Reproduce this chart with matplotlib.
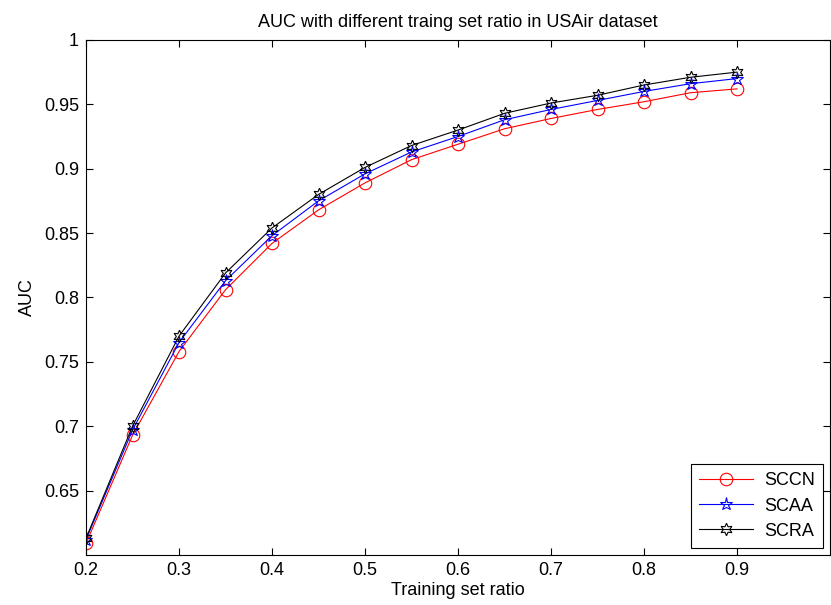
import matplotlib
matplotlib.use("Agg")
import matplotlib.pyplot as plt

plt.rcParams['font.family'] = ['Liberation Sans', 'DejaVu Sans']

ratio = [0.2, 0.25, 0.3, 0.35, 0.4, 0.45, 0.5, 0.55, 0.6, 0.65, 0.7, 0.75, 0.8, 0.85, 0.9]
sccn = [0.609, 0.693, 0.758, 0.806, 0.842, 0.868, 0.889, 0.907, 0.919, 0.931, 0.939, 0.946, 0.952, 0.959, 0.962]
scaa = [0.612, 0.697, 0.765, 0.813, 0.848, 0.875, 0.896, 0.913, 0.925, 0.938, 0.946, 0.953, 0.960, 0.966, 0.970]
scra = [0.613, 0.700, 0.770, 0.819, 0.854, 0.880, 0.901, 0.918, 0.930, 0.943, 0.951, 0.957, 0.965, 0.971, 0.975]

xticks = [0.2, 0.3, 0.4, 0.5, 0.6, 0.7, 0.8, 0.9]
yticks = [0.65, 0.7, 0.75, 0.8, 0.85, 0.9, 0.95, 1]

fig = plt.figure(figsize=(8.31, 6.05), dpi=100)
ax = fig.add_axes([0.1035, 0.0826, 0.8953, 0.8514])

ax.plot(ratio, sccn, color='red', lw=0.8, marker='o', ms=9, mfc='none', mew=0.8, label='SCCN')
ax.plot(ratio, scaa, color='blue', lw=0.8, marker='*', ms=9.5, mfc='none', mew=0.8, label='SCAA')
ax.plot(ratio, scra, color='black', lw=0.8, marker=(6, 1, 0), ms=9, mfc='none', mew=0.8, label='SCRA')

ax.set_xlim(0.2, 1.0)
ax.set_ylim(0.6, 1.0)
ax.set_xticks(xticks)
ax.set_xticklabels([('%g' % t) for t in xticks])
ax.set_yticks(yticks)
ax.set_yticklabels([('%g' % t) for t in yticks])
ax.tick_params(direction='in', top=True, right=True, length=5, width=0.8, labelsize=13, pad=5)
for s in ax.spines.values():
    s.set_linewidth(0.8)

ax.set_title('AUC with different traing set ratio in USAir dataset', fontsize=13, pad=9)
ax.set_xlabel('Training set ratio', fontsize=13, labelpad=2)
ax.set_ylabel('AUC', fontsize=13, labelpad=6)

leg = ax.legend(loc='lower right', fontsize=13, fancybox=False, framealpha=1,
                edgecolor='black', borderaxespad=0.4, handlelength=3.0,
                borderpad=0.45, labelspacing=0.45, handletextpad=0.6)
leg.get_frame().set_linewidth(0.8)

fig.savefig('out.png', dpi=100)
